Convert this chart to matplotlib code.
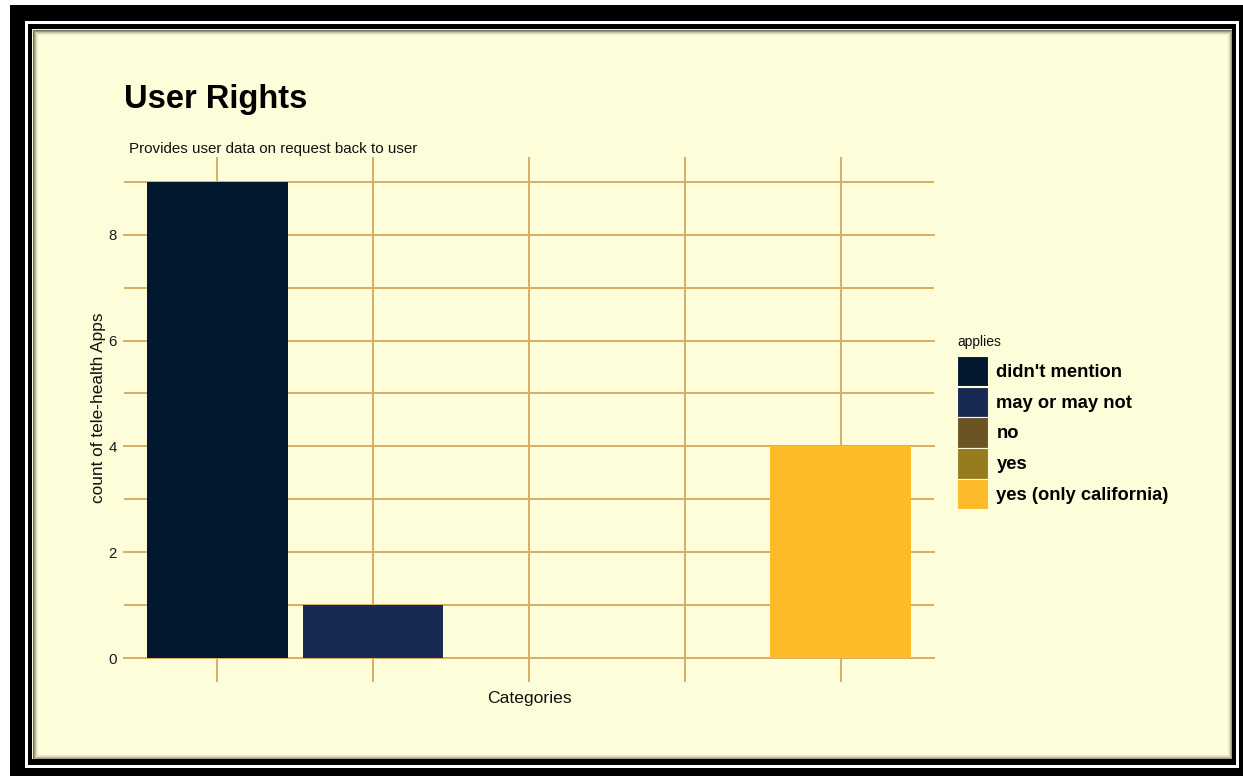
import matplotlib
matplotlib.use("Agg")
import matplotlib.pyplot as plt
from matplotlib.patches import Rectangle, Patch
import numpy as np

plt.rcParams['font.family'] = ['Liberation Sans', 'DejaVu Sans']

# counts of apps per answer
applies = ["didn't mention", "may or may not", "no", "yes", "yes (only california)"]
counts = [9, 1, 0, 0, 4]
fill_colors = ['#01182F', '#172A53', '#6B5423', '#977B1F', '#FEBB29']

title = "User Rights"
subtitle = "Provides user data on request back to user"
y_ticks = [0, 2, 4, 6, 8]
y_minor = [1, 3, 5, 7, 9]

W, H = 1243, 776
CREAM = '#FEFDDA'
GRID = '#D6AE62'

fig = plt.figure(figsize=(W / 100, H / 100), dpi=100, facecolor='white')


def px_rect(x0, y0, x1, y1, **kw):
    # rectangle given in pixel coords, origin at the top left
    return Rectangle((x0 / W, 1 - y1 / H), (x1 - x0) / W, (y1 - y0) / H,
                     transform=fig.transFigure, zorder=-10, **kw)


# framed border around the plot
fig.add_artist(px_rect(10, 5, W, H, facecolor='black', edgecolor='none'))
fig.add_artist(px_rect(25, 21, 1239, 768, facecolor='white', edgecolor='none'))
fig.add_artist(px_rect(28, 24, 1236, 765, facecolor='black', edgecolor='none'))
fig.add_artist(px_rect(32, 29, 1232, 759, facecolor=CREAM, edgecolor='none'))
for i, a in enumerate([0.55, 0.38, 0.24, 0.13, 0.06]):
    fig.add_artist(px_rect(32 + i + 0.5, 29 + i + 0.5, 1232 - i - 0.5, 759 - i - 0.5,
                           facecolor='none', edgecolor='black', alpha=a, linewidth=0.75))

# panel
left, right, top, bottom = 124, 934, 157, 658
ax = fig.add_axes([left / W, 1 - bottom / H, (right - left) / W, (bottom - top) / H])
ax.patch.set_visible(False)

x = np.arange(1, len(applies) + 1)
ax.bar(x, counts, width=0.9, color=fill_colors, edgecolor='none', zorder=3)

ax.set_xlim(0.4, 5.6)
ax.set_ylim(0, 9.47)
ax.set_xticks(x)
ax.set_xticklabels([''] * len(x))
ax.set_yticks(y_ticks)
ax.set_yticks(y_minor, minor=True)
ax.set_yticklabels([str(v) for v in y_ticks])

ax.grid(True, which='major', color=GRID, linewidth=1.4, zorder=0)
ax.grid(True, which='minor', axis='y', color=GRID, linewidth=1.4, zorder=0)
ax.set_axisbelow(True)
for line in ax.get_ygridlines():
    line.set_clip_on(False)
for s in ax.spines.values():
    s.set_visible(False)

ax.tick_params(axis='x', length=17.5, width=1.4, color=GRID, direction='out')
ax.tick_params(axis='y', which='both', length=0, pad=5, labelsize=10.8, labelcolor='#1a1a1a')

ax.set_xlabel('Categories', fontsize=12.6, color='#111111', labelpad=3)
ax.set_ylabel('count of tele-health Apps', fontsize=12.4, color='#111111', labelpad=2)

fig.text(124 / W, 1 - 108 / H, title, fontsize=23.5, fontweight='bold', va='baseline', ha='left')
fig.text(129 / W, 1 - 152.5 / H, subtitle, fontsize=10.9, va='baseline', ha='left', color='#111111')

# legend, title placed on its own so the gap above the keys can be set
fig.text(957 / W, 1 - 342 / H, 'applies', fontsize=10, va='center', ha='left', color='#111111')
handles = [Patch(facecolor=c, edgecolor=CREAM, linewidth=0.8) for c in fill_colors]
leg = fig.legend(handles, applies, loc='upper left',
                 bbox_to_anchor=(957 / W, 1 - 356 / H), frameon=False,
                 prop={'weight': 'bold', 'size': 13.2},
                 handlelength=1.7, handleheight=2.17, labelspacing=0.02,
                 handletextpad=0.45, borderpad=0, borderaxespad=0)

fig.savefig('out.png', dpi=100, facecolor='white')
